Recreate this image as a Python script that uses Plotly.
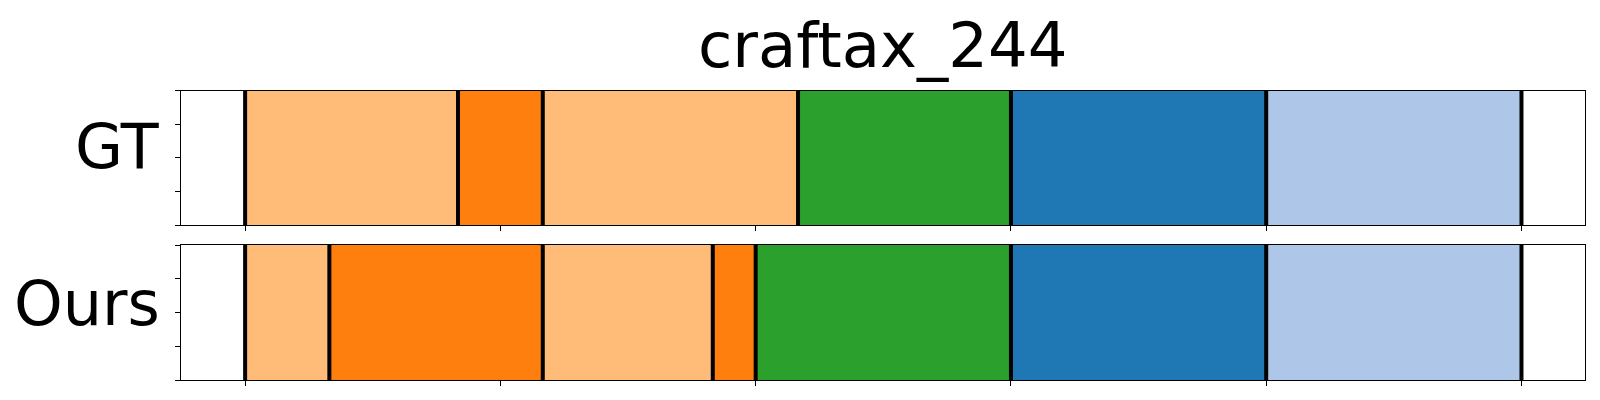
import plotly.graph_objects as go

title_text = "craftax_244"
row_labels = ["GT", "Ours"]

# segment boundaries (frame index) and segment classes
gt_bounds = [0, 41.7, 58.3, 108.3, 150, 200, 250]
gt_classes = ["light_orange", "orange", "light_orange", "green", "blue", "light_blue"]
ours_bounds = [0, 16.5, 58.3, 91.6, 100, 150, 200, 250]
ours_classes = ["light_orange", "orange", "light_orange", "orange", "green", "blue", "light_blue"]

x_ticks = [0, 50, 100, 150, 200, 250]
y_ticks = [0, 0.25, 0.5, 0.75, 1.0]

palette = {
    "light_orange": "#ffbb78",
    "orange": "#ff7f0e",
    "green": "#2ca02c",
    "blue": "#1f77b4",
    "light_blue": "#aec7e8",
}

# page body has an 8px margin: shrink figure and shift coordinates accordingly
OFF = 8
W, H = 1600 - 2 * OFF, 400 - 2 * OFF
ax_left, ax_right = 181.3 - OFF, 1585.3 - OFF
rows_px = [(90.7 - OFF, 225.0 - OFF), (245.0 - OFF, 380.0 - OFF)]

fig = go.Figure()

def add_row(bounds, classes, xa, ya):
    starts = bounds[:-1]
    widths = [b - a for a, b in zip(bounds[:-1], bounds[1:])]
    fig.add_trace(go.Bar(
        orientation="h", base=starts, x=widths, y=[0.5] * len(widths), width=1.0,
        marker=dict(color=[palette[c] for c in classes], line=dict(width=0)),
        xaxis=xa, yaxis=ya, showlegend=False, hoverinfo="skip",
    ))
    lx, ly = [], []
    for b in bounds:
        lx += [b, b, None]
        ly += [0, 1, None]
    fig.add_trace(go.Scatter(
        x=lx, y=ly, mode="lines", line=dict(color="black", width=4),
        xaxis=xa, yaxis=ya, showlegend=False, hoverinfo="skip",
    ))

add_row(gt_bounds, gt_classes, "x", "y")
add_row(ours_bounds, ours_classes, "x2", "y2")

axis_common = dict(showline=True, mirror=True, linecolor="black", linewidth=1.25,
                   ticks="outside", ticklen=5, tickwidth=1, tickcolor="black",
                   showticklabels=False, showgrid=False, zeroline=False, fixedrange=True)

xdom = [ax_left / W, ax_right / W]
layout = dict(
    width=W, height=H, margin=dict(l=0, r=0, t=0, b=0),
    plot_bgcolor="white", paper_bgcolor="white", barmode="overlay", bargap=0,
    font=dict(family="DejaVu Sans", color="black"),
)
for i, (top, bot) in enumerate(rows_px):
    sfx = "" if i == 0 else str(i + 1)
    layout["xaxis" + sfx] = dict(axis_common, domain=xdom, range=[-12.5, 262.5],
                                 tickvals=x_ticks, anchor="y" + sfx)
    layout["yaxis" + sfx] = dict(axis_common, domain=[1 - bot / H, 1 - top / H], range=[0, 1],
                                 tickvals=y_ticks, anchor="x" + sfx)
fig.update_layout(**layout)

annotations = [dict(text=title_text, x=(ax_left + ax_right) / 2 / W, y=1.0,
                    xref="paper", yref="paper", xanchor="center", yanchor="top", borderpad=0,
                    showarrow=False, font=dict(size=62.5, family="DejaVu Sans", color="black"))]
for i, (lab, (top, bot)) in enumerate(zip(row_labels, rows_px)):
    annotations.append(dict(text=lab, x=(ax_left - 19) / W, y=1 - ((top + bot) / 2 - 11 + 1.5 * i) / H,
                            xref="paper", yref="paper", xanchor="right", yanchor="middle",
                            showarrow=False, font=dict(size=62, family="DejaVu Sans", color="black")))
fig.update_layout(annotations=annotations)

fig.write_html("out.html")
